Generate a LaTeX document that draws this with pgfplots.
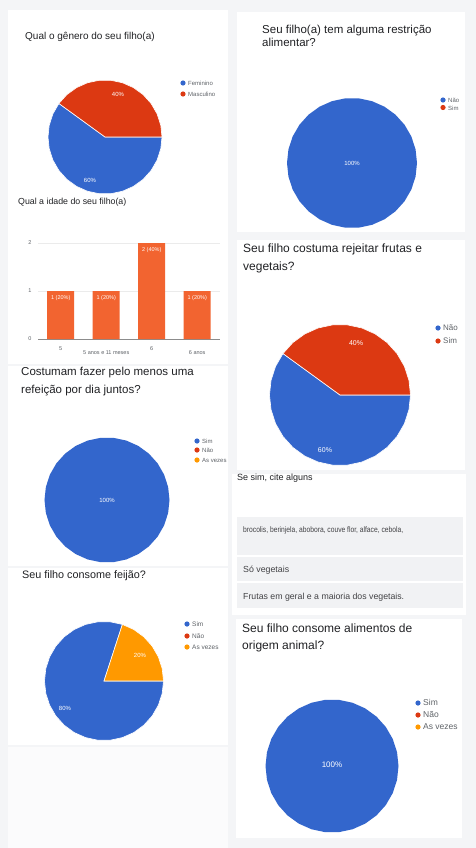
\documentclass[border=0pt]{standalone}
\usepackage{pgfplots}
\pgfplotsset{compat=1.18}
\usepgfplotslibrary{polar}
\usepackage{pgfplotstable}
\usepackage{fontspec}
\setmainfont{Liberation Sans}

\definecolor{gblue}{HTML}{3366CC}
\definecolor{gred}{HTML}{DC3912}
\definecolor{gorange}{HTML}{FF9900}
\definecolor{barorange}{HTML}{F26430}
\definecolor{bg}{HTML}{F4F5F7}
\definecolor{boxgray}{HTML}{F1F2F4}
\definecolor{ttlgray}{HTML}{202124}
\definecolor{labgray}{HTML}{5F6368}

% pie outlines: angle (deg), radius -- angles follow the slice sizes
\pgfplotstableread{
ang r
0 1
12 1
24 1
36 1
48 1
60 1
72 1
84 1
96 1
108 1
120 1
132 1
144 1
156 1
168 1
180 1
192 1
204 1
216 1
228 1
240 1
252 1
264 1
276 1
288 1
300 1
312 1
324 1
336 1
348 1
360 1
}\fullpie

% 40% slice (0..144) and 60% slice (144..360)
\pgfplotstableread{
ang r
0 0
0 1
12 1
24 1
36 1
48 1
60 1
72 1
84 1
96 1
108 1
120 1
132 1
144 1
}\sliceforty

\pgfplotstableread{
ang r
0 0
144 1
156 1
168 1
180 1
192 1
204 1
216 1
228 1
240 1
252 1
264 1
276 1
288 1
300 1
312 1
324 1
336 1
348 1
360 1
}\slicesixty

% 20% slice (0..72) and 80% slice (72..360)
\pgfplotstableread{
ang r
0 0
0 1
12 1
24 1
36 1
48 1
60 1
72 1
}\slicetwenty

\pgfplotstableread{
ang r
0 0
72 1
84 1
96 1
108 1
120 1
132 1
144 1
156 1
168 1
180 1
192 1
204 1
216 1
228 1
240 1
252 1
264 1
276 1
288 1
300 1
312 1
324 1
336 1
348 1
360 1
}\sliceeighty

\newcommand{\ttl}[4]{\node[anchor=mid west, inner sep=0, text=ttlgray,
  font=\fontsize{#3}{#3}\selectfont] at (#1,-#2) {#4};}
\newcommand{\leg}[5]{\fill[#3] (#1,-#2) circle (2.6);
  \node[anchor=mid west, inner sep=0, text=labgray,
  font=\fontsize{#5}{#5}\selectfont] at (#1+5,-#2) {#4};}
\newcommand{\pct}[4]{\node[text=white, inner sep=0,
  font=\fontsize{#3}{#3}\selectfont] at (#1,-#2) {#4};}

\pgfplotsset{pie/.style={anchor=center, scale only axis, hide axis,
  ymin=0, ymax=1, clip=false}}

\begin{document}
\begin{tikzpicture}[x=1pt,y=1pt]
\fill[bg] (0,0) rectangle (476,-848);

% anchor points of the axes
\coordinate (pGen) at (105,-137);
\coordinate (pAge) at (38,-339);
\coordinate (pMeal) at (107,-500);
\coordinate (pBean) at (104,-681);
\coordinate (pRes) at (352,-163);
\coordinate (pRej) at (340,-395);
\coordinate (pAni) at (332,-766);

% cards
\fill[white] (8,-10) rectangle (228,-364);
\fill[white] (8,-366) rectangle (228,-566);
\fill[white] (8,-568) rectangle (228,-745);
\fill[white!60!bg] (8,-747) rectangle (228,-848);
\fill[white] (237,-12) rectangle (465,-232);
\fill[white] (237,-240) rectangle (465,-470);
\fill[white] (232,-474) rectangle (466,-615);
\fill[white] (236,-619) rectangle (462,-838);

% ---- gender
\ttl{25}{37}{10}{Qual o gênero do seu filho(a)}
\begin{polaraxis}[pie, at={(pGen)}, width=114pt, height=114pt]
\addplot[fill=gblue, draw=white, line width=0.6pt] table {\slicesixty} -- cycle;
\addplot[fill=gred, draw=white, line width=0.6pt] table {\sliceforty} -- cycle;
\end{polaraxis}
\pct{118}{94}{6}{40\%}
\pct{90}{180}{6}{60\%}
\leg{183}{83}{gblue}{Feminino}{6}
\leg{183}{94}{gred}{Masculino}{6}

% ---- age bars
\ttl{18}{202}{8.8}{Qual a idade do seu filho(a)}
\begin{axis}[at={(pAge)}, anchor=south west, width=182pt, height=96pt,
  scale only axis, ybar, bar width=27pt,
  xmin=-0.5, xmax=3.5, ymin=0, ymax=2,
  xtick={0,1,2,3},
  xticklabels={5,{~\\5 anos e 11 meses},6,{~\\6 anos}},
  xticklabel style={align=center, font=\fontsize{5.5}{8}\selectfont, text=labgray},
  ytick={0,1,2}, yticklabels={0,1,2},
  yticklabel style={font=\fontsize{5.5}{6}\selectfont, text=labgray, xshift=-3pt},
  axis lines*=left, y axis line style={draw=none},
  x axis line style={black!45}, tick style={draw=none},
  ymajorgrids, grid style={black!8},
  nodes near coords, point meta=explicit symbolic,
  every node near coord/.append style={anchor=north, text=white,
    font=\fontsize{5.5}{6}\selectfont, yshift=-1pt}]
\addplot[fill=barorange, draw=none] coordinates {
  (0,1) [1 (20\%)] (1,1) [1 (20\%)] (2,2) [2 (40\%)] (3,1) [1 (20\%)]};
\end{axis}

% ---- meals together
\ttl{21}{373}{11.5}{Costumam fazer pelo menos uma}
\ttl{21}{391}{11.5}{refeição por dia juntos?}
\begin{polaraxis}[pie, at={(pMeal)}, width=125pt, height=125pt]
\addplot[fill=gblue, draw=none] table {\fullpie} -- cycle;
\end{polaraxis}
\pct{107}{500}{6}{100\%}
\leg{197}{441}{gblue}{Sim}{6}
\leg{197}{450}{gred}{Não}{6}
\leg{197}{460}{gorange}{As vezes}{6}

% ---- beans
\ttl{22}{576}{10.8}{Seu filho consome feijão?}
\begin{polaraxis}[pie, at={(pBean)}, width=119pt, height=119pt]
\addplot[fill=gblue, draw=white, line width=0.6pt] table {\sliceeighty} -- cycle;
\addplot[fill=gorange, draw=white, line width=0.6pt] table {\slicetwenty} -- cycle;
\end{polaraxis}
\pct{140}{655}{6}{20\%}
\pct{65}{708}{6}{80\%}
\leg{187}{624}{gblue}{Sim}{6.5}
\leg{187}{636}{gred}{Não}{6.5}
\leg{187}{647}{gorange}{As vezes}{6.5}

% ---- food restriction
\ttl{262}{31}{11.5}{Seu filho(a) tem alguma restrição}
\ttl{262}{44}{11.5}{alimentar?}
\begin{polaraxis}[pie, at={(pRes)}, width=130pt, height=130pt]
\addplot[fill=gblue, draw=none] table {\fullpie} -- cycle;
\end{polaraxis}
\pct{352}{163}{6}{100\%}
\leg{443}{100}{gblue}{Não}{6}
\leg{443}{107.5}{gred}{Sim}{6}

% ---- rejects fruit and vegetables
\ttl{243}{250}{12}{Seu filho costuma rejeitar frutas e}
\ttl{243}{268}{12}{vegetais?}
\begin{polaraxis}[pie, at={(pRej)}, width=141pt, height=141pt]
\addplot[fill=gblue, draw=white, line width=0.6pt] table {\slicesixty} -- cycle;
\addplot[fill=gred, draw=white, line width=0.6pt] table {\sliceforty} -- cycle;
\end{polaraxis}
\pct{356}{343}{7}{40\%}
\pct{325}{450}{7}{60\%}
\leg{438}{328}{gblue}{Não}{8}
\leg{438}{341}{gred}{Sim}{8}

% ---- answers
\ttl{237}{478}{9}{Se sim, cite alguns}
\fill[boxgray] (237,-517) rectangle (463,-555);
\fill[boxgray] (237,-557) rectangle (463,-581);
\fill[boxgray] (237,-583) rectangle (463,-608);
\node[anchor=mid west, inner sep=0, text=ttlgray!85] at (243,-530)
  {\resizebox{160pt}{\height}{\fontsize{8}{9}\selectfont brocolis, berinjela, abobora, couve flor, alface, cebola,}};
\node[anchor=mid west, inner sep=0, text=ttlgray!85] at (243,-570)
  {\resizebox{46pt}{!}{Só vegetais}};
\node[anchor=mid west, inner sep=0, text=ttlgray!85] at (243,-597)
  {\resizebox{161pt}{!}{Frutas em geral e a maioria dos vegetais.}};

% ---- animal foods
\ttl{242}{630}{12}{Seu filho consome alimentos de}
\ttl{242}{647}{12}{origem animal?}
\begin{polaraxis}[pie, at={(pAni)}, width=133pt, height=133pt]
\addplot[fill=gblue, draw=none] table {\fullpie} -- cycle;
\end{polaraxis}
\pct{332}{765}{8}{100\%}
\leg{418}{703}{gblue}{Sim}{8.5}
\leg{418}{715}{gred}{Não}{8.5}
\leg{418}{727}{gorange}{As vezes}{8.5}
\end{tikzpicture}
\end{document}
